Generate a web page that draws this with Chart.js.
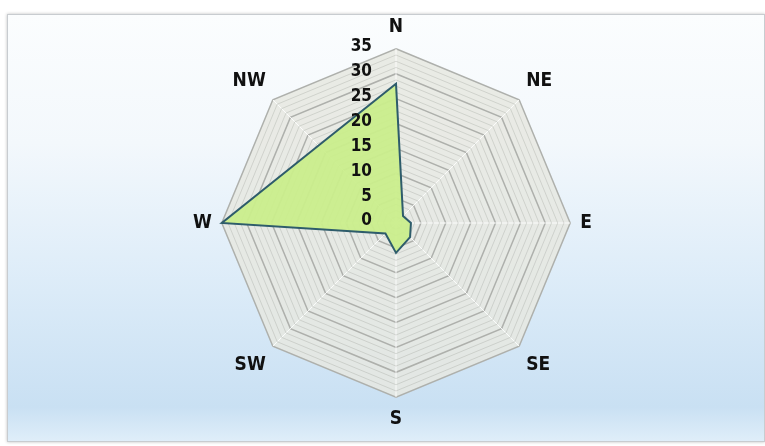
<!DOCTYPE html>
<html>
<head>
<meta charset="utf-8">
<script src="https://cdn.jsdelivr.net/npm/chart.js@4"></script>
<style>
  html, body { margin: 0; padding: 0; background: #ffffff; }
  #frame {
    position: absolute; left: 7px; top: 14px; width: 756px; height: 426px;
    border: 1px solid #c8ccd0;
    box-shadow: 0 0 3px rgba(0,0,0,0.25);
    background: linear-gradient(to bottom, #fbfdfe 0%, #f3f8fc 30%, #dbebf8 65%, #c9e0f3 92%, #dfeef9 100%);
  }
  #wrap { position: absolute; left: 0; top: 0; width: 765px; height: 446px; }
</style>
</head>
<body>
<div id="frame"></div>
<div id="wrap"><canvas id="windChart"></canvas></div>
<script>
// wind directions and frequency per direction
const directions = ['N', 'NE', 'E', 'SE', 'S', 'SW', 'W', 'NW'];
const frequency = [28, 2, 3, 4, 6, 3, 35, 22];
const tickLabels = ['0', '5', '10', '15', '20', '25', '30', '35'];

const labelFont = "'DejaVu Sans Condensed', 'Liberation Sans Narrow', Arial, sans-serif";

// faint extra rings between the main grid lines, gives the banded look
const bandPlugin = {
  id: 'bands',
  beforeDatasetsDraw(chart) {
    const scale = chart.scales.r;
    const ctx = chart.ctx;
    const n = directions.length;
    ctx.save();
    ctx.strokeStyle = 'rgba(150, 152, 146, 0.3)';
    ctx.lineWidth = 1;
    for (let v = 1.25; v < 35; v += 1.25) {
      if (Math.abs(v % 5) < 0.01) continue;
      ctx.beginPath();
      for (let i = 0; i < n; i++) {
        const p = scale.getPointPositionForValue(i, v);
        if (i === 0) ctx.moveTo(p.x, p.y); else ctx.lineTo(p.x, p.y);
      }
      ctx.closePath();
      ctx.stroke();
    }
    ctx.restore();
  }
};

// draws the ring values on the left side of the north axis
const tickLabelPlugin = {
  id: 'tickLabels',
  afterDraw(chart) {
    const scale = chart.scales.r;
    const ctx = chart.ctx;
    ctx.save();
    ctx.font = 'bold 17px ' + labelFont;
    ctx.fillStyle = '#111111';
    ctx.textAlign = 'right';
    ctx.textBaseline = 'middle';
    tickLabels.forEach(function (t) {
      const pos = scale.getPointPositionForValue(0, Number(t));
      ctx.fillText(t, pos.x - 24, pos.y - 2);
    });
    ctx.restore();
  }
};

const ctx = document.getElementById('windChart').getContext('2d');
new Chart(ctx, {
  type: 'radar',
  data: {
    labels: directions,
    datasets: [
      {
        data: frequency,
        backgroundColor: 'rgba(202, 238, 140, 0.95)',
        borderColor: '#2e5c6b',
        borderWidth: 2,
        pointRadius: 0,
        tension: 0
      }
    ]
  },
  options: {
    responsive: true,
    maintainAspectRatio: false,
    animation: false,
    layout: {
      padding: { top: 17, bottom: 15, left: 37, right: 9 }
    },
    scales: {
      r: {
        min: 0,
        max: 35,
        backgroundColor: 'rgba(230, 231, 225, 0.85)',
        ticks: {
          stepSize: 5,
          display: false
        },
        grid: {
          circular: false,
          color: '#aeb0ac',
          lineWidth: 1.5
        },
        angleLines: {
          color: 'rgba(255, 255, 255, 0.85)',
          lineWidth: 1
        },
        pointLabels: {
          color: '#111111',
          padding: 10,
          font: {
            family: labelFont,
            size: 19,
            weight: 'bold'
          }
        }
      }
    },
    plugins: {
      legend: { display: false },
      tooltip: { enabled: false }
    }
  },
  plugins: [bandPlugin, tickLabelPlugin]
});
</script>
</body>
</html>
